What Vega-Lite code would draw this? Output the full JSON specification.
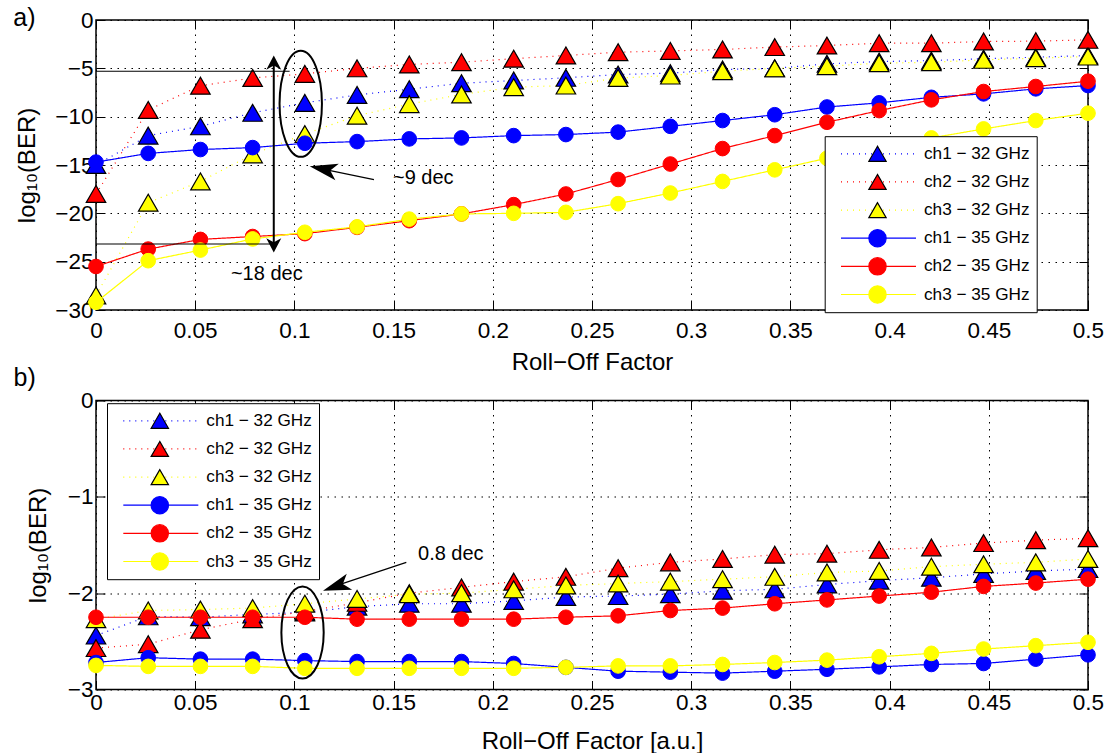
{
  "$schema": "https://vega.github.io/schema/vega-lite/v6.json",
  "background": "white",
  "padding": {"left": 12, "top": 5, "right": 5, "bottom": 0},
  "config": {
    "font": "Liberation Sans",
    "view": {"stroke": "black", "strokeWidth": 1.5},
    "axis": {
      "labelColor": "black",
      "titleColor": "black",
      "labelFontSize": 22.5,
      "titleFontSize": 24,
      "titleFontWeight": "normal",
      "tickColor": "black",
      "tickWidth": 1,
      "labelOverlap": false,
      "labelFlush": false,
      "domain": false
    },
    "legend": {"labelColor": "black"}
  },
  "datasets": {
    "rollA": [
      {"rolloff": 0, "ch1 − 32 GHz": -15.0, "ch2 − 32 GHz": -18.0, "ch3 − 32 GHz": -28.5, "ch1 − 35 GHz": -14.7, "ch2 − 35 GHz": -25.5, "ch3 − 35 GHz": -29.2},
      {"rolloff": 0.026316, "ch1 − 32 GHz": -11.96, "ch2 − 32 GHz": -9.3, "ch3 − 32 GHz": -18.9, "ch1 − 35 GHz": -13.8, "ch2 − 35 GHz": -23.7, "ch3 − 35 GHz": -24.9},
      {"rolloff": 0.052632, "ch1 − 32 GHz": -11.0, "ch2 − 32 GHz": -6.8, "ch3 − 32 GHz": -16.7, "ch1 − 35 GHz": -13.4, "ch2 − 35 GHz": -22.7, "ch3 − 35 GHz": -23.8},
      {"rolloff": 0.078947, "ch1 − 32 GHz": -9.6, "ch2 − 32 GHz": -6.0, "ch3 − 32 GHz": -13.9, "ch1 − 35 GHz": -13.2, "ch2 − 35 GHz": -22.4, "ch3 − 35 GHz": -22.65},
      {"rolloff": 0.105263, "ch1 − 32 GHz": -8.57, "ch2 − 32 GHz": -5.57, "ch3 − 32 GHz": -11.8, "ch1 − 35 GHz": -12.75, "ch2 − 35 GHz": -22.1, "ch3 − 35 GHz": -21.96},
      {"rolloff": 0.131579, "ch1 − 32 GHz": -7.75, "ch2 − 32 GHz": -5.0, "ch3 − 32 GHz": -9.9, "ch1 − 35 GHz": -12.58, "ch2 − 35 GHz": -21.45, "ch3 − 35 GHz": -21.4},
      {"rolloff": 0.157895, "ch1 − 32 GHz": -7.16, "ch2 − 32 GHz": -4.6, "ch3 − 32 GHz": -8.7, "ch1 − 35 GHz": -12.3, "ch2 − 35 GHz": -20.76, "ch3 − 35 GHz": -20.6},
      {"rolloff": 0.184211, "ch1 − 32 GHz": -6.54, "ch2 − 32 GHz": -4.37, "ch3 − 32 GHz": -7.7, "ch1 − 35 GHz": -12.2, "ch2 − 35 GHz": -20.06, "ch3 − 35 GHz": -20.06},
      {"rolloff": 0.210526, "ch1 − 32 GHz": -6.26, "ch2 − 32 GHz": -4.0, "ch3 − 32 GHz": -6.95, "ch1 − 35 GHz": -11.96, "ch2 − 35 GHz": -19.1, "ch3 − 35 GHz": -20.0},
      {"rolloff": 0.236842, "ch1 − 32 GHz": -5.98, "ch2 − 32 GHz": -3.67, "ch3 − 32 GHz": -6.78, "ch1 − 35 GHz": -11.85, "ch2 − 35 GHz": -18.0, "ch3 − 35 GHz": -19.9},
      {"rolloff": 0.263158, "ch1 − 32 GHz": -5.64, "ch2 − 32 GHz": -3.33, "ch3 − 32 GHz": -6.0, "ch1 − 35 GHz": -11.6, "ch2 − 35 GHz": -16.5, "ch3 − 35 GHz": -19.0},
      {"rolloff": 0.289474, "ch1 − 32 GHz": -5.5, "ch2 − 32 GHz": -3.2, "ch3 − 32 GHz": -5.75, "ch1 − 35 GHz": -11.0, "ch2 − 35 GHz": -14.9, "ch3 − 35 GHz": -17.9},
      {"rolloff": 0.315789, "ch1 − 32 GHz": -5.12, "ch2 − 32 GHz": -3.05, "ch3 − 32 GHz": -5.3, "ch1 − 35 GHz": -10.4, "ch2 − 35 GHz": -13.3, "ch3 − 35 GHz": -16.7},
      {"rolloff": 0.342105, "ch1 − 32 GHz": -5.0, "ch2 − 32 GHz": -2.8, "ch3 − 32 GHz": -5.0, "ch1 − 35 GHz": -9.8, "ch2 − 35 GHz": -11.96, "ch3 − 35 GHz": -15.5},
      {"rolloff": 0.368421, "ch1 − 32 GHz": -4.53, "ch2 − 32 GHz": -2.64, "ch3 − 32 GHz": -4.78, "ch1 − 35 GHz": -9.0, "ch2 − 35 GHz": -10.58, "ch3 − 35 GHz": -14.3},
      {"rolloff": 0.394737, "ch1 − 32 GHz": -4.3, "ch2 − 32 GHz": -2.4, "ch3 − 32 GHz": -4.47, "ch1 − 35 GHz": -8.57, "ch2 − 35 GHz": -9.37, "ch3 − 35 GHz": -13.3},
      {"rolloff": 0.421053, "ch1 − 32 GHz": -4.2, "ch2 − 32 GHz": -2.4, "ch3 − 32 GHz": -4.37, "ch1 − 35 GHz": -8.0, "ch2 − 35 GHz": -8.26, "ch3 − 35 GHz": -12.2},
      {"rolloff": 0.447368, "ch1 − 32 GHz": -4.0, "ch2 − 32 GHz": -2.22, "ch3 − 32 GHz": -4.12, "ch1 − 35 GHz": -7.64, "ch2 − 35 GHz": -7.4, "ch3 − 35 GHz": -11.27},
      {"rolloff": 0.473684, "ch1 − 32 GHz": -3.85, "ch2 − 32 GHz": -2.19, "ch3 − 32 GHz": -3.95, "ch1 − 35 GHz": -7.12, "ch2 − 35 GHz": -6.88, "ch3 − 35 GHz": -10.4},
      {"rolloff": 0.5, "ch1 − 32 GHz": -3.67, "ch2 − 32 GHz": -2.05, "ch3 − 32 GHz": -3.78, "ch1 − 35 GHz": -6.78, "ch2 − 35 GHz": -6.33, "ch3 − 35 GHz": -9.64}
    ],
    "rollB": [
      {"rolloff": 0, "ch1 − 32 GHz": -2.44, "ch2 − 32 GHz": -2.57, "ch3 − 32 GHz": -2.27, "ch1 − 35 GHz": -2.72, "ch2 − 35 GHz": -2.25, "ch3 − 35 GHz": -2.75},
      {"rolloff": 0.026316, "ch1 − 32 GHz": -2.24, "ch2 − 32 GHz": -2.53, "ch3 − 32 GHz": -2.18, "ch1 − 35 GHz": -2.67, "ch2 − 35 GHz": -2.25, "ch3 − 35 GHz": -2.76},
      {"rolloff": 0.052632, "ch1 − 32 GHz": -2.25, "ch2 − 32 GHz": -2.38, "ch3 − 32 GHz": -2.17, "ch1 − 35 GHz": -2.685, "ch2 − 35 GHz": -2.25, "ch3 − 35 GHz": -2.76},
      {"rolloff": 0.078947, "ch1 − 32 GHz": -2.22, "ch2 − 32 GHz": -2.27, "ch3 − 32 GHz": -2.155, "ch1 − 35 GHz": -2.685, "ch2 − 35 GHz": -2.25, "ch3 − 35 GHz": -2.76},
      {"rolloff": 0.105263, "ch1 − 32 GHz": -2.2, "ch2 − 32 GHz": -2.19, "ch3 − 32 GHz": -2.11, "ch1 − 35 GHz": -2.7, "ch2 − 35 GHz": -2.25, "ch3 − 35 GHz": -2.78},
      {"rolloff": 0.131579, "ch1 − 32 GHz": -2.14, "ch2 − 32 GHz": -2.1, "ch3 − 32 GHz": -2.06, "ch1 − 35 GHz": -2.71, "ch2 − 35 GHz": -2.27, "ch3 − 35 GHz": -2.78},
      {"rolloff": 0.157895, "ch1 − 32 GHz": -2.11, "ch2 − 32 GHz": -2.0, "ch3 − 32 GHz": -2.01, "ch1 − 35 GHz": -2.71, "ch2 − 35 GHz": -2.27, "ch3 − 35 GHz": -2.78},
      {"rolloff": 0.184211, "ch1 − 32 GHz": -2.11, "ch2 − 32 GHz": -1.94, "ch3 − 32 GHz": -2.0, "ch1 − 35 GHz": -2.71, "ch2 − 35 GHz": -2.27, "ch3 − 35 GHz": -2.78},
      {"rolloff": 0.210526, "ch1 − 32 GHz": -2.08, "ch2 − 32 GHz": -1.88, "ch3 − 32 GHz": -1.96, "ch1 − 35 GHz": -2.73, "ch2 − 35 GHz": -2.27, "ch3 − 35 GHz": -2.78},
      {"rolloff": 0.236842, "ch1 − 32 GHz": -2.04, "ch2 − 32 GHz": -1.83, "ch3 − 32 GHz": -1.92, "ch1 − 35 GHz": -2.77, "ch2 − 35 GHz": -2.25, "ch3 − 35 GHz": -2.77},
      {"rolloff": 0.263158, "ch1 − 32 GHz": -2.03, "ch2 − 32 GHz": -1.74, "ch3 − 32 GHz": -1.9, "ch1 − 35 GHz": -2.81, "ch2 − 35 GHz": -2.235, "ch3 − 35 GHz": -2.755},
      {"rolloff": 0.289474, "ch1 − 32 GHz": -2.01, "ch2 − 32 GHz": -1.68, "ch3 − 32 GHz": -1.88, "ch1 − 35 GHz": -2.82, "ch2 − 35 GHz": -2.18, "ch3 − 35 GHz": -2.755},
      {"rolloff": 0.315789, "ch1 − 32 GHz": -1.975, "ch2 − 32 GHz": -1.645, "ch3 − 32 GHz": -1.855, "ch1 − 35 GHz": -2.83, "ch2 − 35 GHz": -2.155, "ch3 − 35 GHz": -2.74},
      {"rolloff": 0.342105, "ch1 − 32 GHz": -1.96, "ch2 − 32 GHz": -1.6, "ch3 − 32 GHz": -1.83, "ch1 − 35 GHz": -2.81, "ch2 − 35 GHz": -2.11, "ch3 − 35 GHz": -2.72},
      {"rolloff": 0.368421, "ch1 − 32 GHz": -1.91, "ch2 − 32 GHz": -1.59, "ch3 − 32 GHz": -1.785, "ch1 − 35 GHz": -2.79, "ch2 − 35 GHz": -2.07, "ch3 − 35 GHz": -2.695},
      {"rolloff": 0.394737, "ch1 − 32 GHz": -1.87, "ch2 − 32 GHz": -1.55, "ch3 − 32 GHz": -1.77, "ch1 − 35 GHz": -2.765, "ch2 − 35 GHz": -2.03, "ch3 − 35 GHz": -2.66},
      {"rolloff": 0.421053, "ch1 − 32 GHz": -1.84, "ch2 − 32 GHz": -1.525, "ch3 − 32 GHz": -1.725, "ch1 − 35 GHz": -2.74, "ch2 − 35 GHz": -1.99, "ch3 − 35 GHz": -2.625},
      {"rolloff": 0.447368, "ch1 − 32 GHz": -1.8, "ch2 − 32 GHz": -1.48, "ch3 − 32 GHz": -1.7, "ch1 − 35 GHz": -2.73, "ch2 − 35 GHz": -1.93, "ch3 − 35 GHz": -2.58},
      {"rolloff": 0.473684, "ch1 − 32 GHz": -1.77, "ch2 − 32 GHz": -1.45, "ch3 − 32 GHz": -1.68, "ch1 − 35 GHz": -2.685, "ch2 − 35 GHz": -1.895, "ch3 − 35 GHz": -2.545},
      {"rolloff": 0.5, "ch1 − 32 GHz": -1.75, "ch2 − 32 GHz": -1.43, "ch3 − 32 GHz": -1.645, "ch1 − 35 GHz": -2.64, "ch2 − 35 GHz": -1.855, "ch3 − 35 GHz": -2.51}
    ]
  },
  "bounds": "flush",
  "spacing": 90.5,
  "resolve": {
    "scale": {"color": "independent", "fill": "independent", "shape": "independent", "stroke": "independent", "strokeDash": "independent"},
    "legend": {"color": "independent", "fill": "independent", "shape": "independent", "stroke": "independent", "strokeDash": "independent"}
  },
  "vconcat": [
    {
      "title": {"text": "a)", "anchor": "start", "frame": "bounds", "fontSize": 25, "fontWeight": "normal", "offset": -22, "dx": -2, "color": "black"},
      "width": 992,
      "height": 290,
      "data": {"name": "rollA"},
      "transform": [
        {"fold": ["ch1 − 32 GHz", "ch2 − 32 GHz", "ch3 − 32 GHz", "ch1 − 35 GHz", "ch2 − 35 GHz", "ch3 − 35 GHz"], "as": ["series", "ber"]}
      ],
      "resolve": {"axis": {"x": "independent", "y": "independent"}},
      "layer": [
        {
          "transform": [{"filter": {"field": "series", "oneOf": ["ch1 − 32 GHz", "ch2 − 32 GHz", "ch3 − 32 GHz"]}}],
          "mark": {"type": "line", "strokeWidth": 1.2},
          "encoding": {
            "x": {"field": "rolloff", "type": "quantitative", "scale": {"domain": [0, 0.5], "nice": false, "zero": false},
              "axis": {"orient": "bottom", "values": [0, 0.05, 0.1, 0.15, 0.2, 0.25, 0.3, 0.35, 0.4, 0.45, 0.5], "format": "~g", "title": "Roll−Off Factor", "grid": true, "gridColor": "black", "gridDash": [1.5, 5.5], "gridWidth": 1, "tickSize": -9, "labelPadding": 18, "titlePadding": 9}},
            "y": {"field": "ber", "type": "quantitative", "scale": {"domain": [-30, 0], "nice": false, "zero": false},
              "axis": {"orient": "left", "values": [0, -5, -10, -15, -20, -25, -30], "format": "~g", "title": "log₁₀(BER)", "grid": true, "gridColor": "black", "gridDash": [1.5, 5.5], "gridWidth": 1, "tickSize": -9, "labelPadding": 12, "titlePadding": 15.5}},
            "color": {"field": "series", "type": "nominal",
              "scale": {"domain": ["ch1 − 32 GHz", "ch2 − 32 GHz", "ch3 − 32 GHz", "ch1 − 35 GHz", "ch2 − 35 GHz", "ch3 − 35 GHz"], "range": ["#0000ff", "#ff0000", "#ffff00", "#0000ff", "#ff0000", "#ffff00"]},
              "legend": {"orient": "none", "legendX": 728.7, "legendY": 116.2, "title": null, "symbolType": "stroke", "symbolSize": 5625, "symbolStrokeWidth": 1.2, "labelFontSize": 17.2, "labelLimit": 300, "padding": 6.6, "rowPadding": 6.14, "clipHeight": 22, "symbolOffset": 8.7, "labelOffset": 7, "strokeColor": "black", "fillColor": "white", "cornerRadius": 0}},
            "strokeDash": {"field": "series", "type": "nominal",
              "scale": {"domain": ["ch1 − 32 GHz", "ch2 − 32 GHz", "ch3 − 32 GHz", "ch1 − 35 GHz", "ch2 − 35 GHz", "ch3 − 35 GHz"], "range": [[1, 5], [1, 5], [1, 5], [1, 0], [1, 0], [1, 0]]}}
          }
        },
        {
          "transform": [{"filter": {"field": "series", "oneOf": ["ch1 − 32 GHz", "ch2 − 32 GHz", "ch3 − 32 GHz"]}}],
          "mark": {"type": "point", "filled": true, "opacity": 1, "size": 380, "strokeWidth": 1.2},
          "encoding": {
            "x": {"field": "rolloff", "type": "quantitative",
              "axis": {"orient": "top", "values": [0, 0.05, 0.1, 0.15, 0.2, 0.25, 0.3, 0.35, 0.4, 0.45, 0.5], "labels": false, "title": null, "grid": false, "tickSize": -9}},
            "y": {"field": "ber", "type": "quantitative",
              "axis": {"orient": "right", "values": [0, -5, -10, -15, -20, -25, -30], "labels": false, "title": null, "grid": false, "tickSize": -9}},
            "fill": {"field": "series", "type": "nominal",
              "scale": {"range": ["#0000ff", "#0000ff", "#ff0000", "#ff0000", "#ffff00", "#ffff00"]},
              "legend": {"orient": "none", "legendX": 728.7, "legendY": 116.2, "title": null, "values": ["ch1 − 32 GHz", "ch2 − 32 GHz", "ch3 − 32 GHz", "ch1 − 35 GHz", "ch2 − 35 GHz", "ch3 − 35 GHz"], "symbolSize": 300, "symbolStrokeWidth": 1.2, "labelFontSize": 17.2, "labelExpr": "''", "padding": 6.6, "rowPadding": 6.14, "clipHeight": 22, "symbolOffset": 36.7, "labelOffset": 7,
                "encode": {"symbols": {"size": {"value": {"expr": "indexof(datum.value, '32 GHz') >= 0 ? 380 : 215"}}}}}},
            "shape": {"field": "series", "type": "nominal",
              "scale": {"range": ["triangle-up", "circle", "triangle-up", "circle", "triangle-up", "circle"]}},
            "stroke": {"field": "series", "type": "nominal",
              "scale": {"range": ["black", "#0000ff", "black", "#ff0000", "black", "#ffff00"]}},
            "order": {"field": "series"}
          }
        },
        {
          "transform": [{"filter": {"field": "series", "oneOf": ["ch1 − 35 GHz", "ch2 − 35 GHz", "ch3 − 35 GHz"]}}],
          "mark": {"type": "line", "strokeWidth": 1.2},
          "encoding": {
            "x": {"field": "rolloff", "type": "quantitative", "axis": null},
            "y": {"field": "ber", "type": "quantitative", "axis": null},
            "color": {"field": "series", "type": "nominal"},
            "strokeDash": {"field": "series", "type": "nominal"}
          }
        },
        {
          "transform": [{"filter": {"field": "series", "oneOf": ["ch1 − 35 GHz", "ch2 − 35 GHz", "ch3 − 35 GHz"]}}],
          "mark": {"type": "point", "filled": true, "opacity": 1, "size": 215, "strokeWidth": 1},
          "encoding": {
            "x": {"field": "rolloff", "type": "quantitative", "axis": null},
            "y": {"field": "ber", "type": "quantitative", "axis": null},
            "fill": {"field": "series", "type": "nominal"},
            "shape": {"field": "series", "type": "nominal"},
            "stroke": {"field": "series", "type": "nominal"},
            "order": {"field": "series"}
          }
        },
        {
          "data": {"values": [{}]},
          "mark": {"type": "rule", "color": "black", "strokeWidth": 1.2},
          "encoding": {"x": {"datum": 0, "axis": null}, "x2": {"datum": 0.0976}, "y": {"datum": -5.3, "axis": null}}
        },
        {
          "data": {"values": [{}]},
          "mark": {"type": "rule", "color": "black", "strokeWidth": 1.2},
          "encoding": {"x": {"datum": 0, "axis": null}, "x2": {"datum": 0.0884}, "y": {"datum": -23.17, "axis": null}}
        },
        {
          "data": {"values": [{}]},
          "mark": {"type": "rule", "color": "black", "strokeWidth": 2},
          "encoding": {"x": {"datum": 0.0896, "axis": null}, "y": {"datum": -4.5, "axis": null}, "y2": {"datum": -23.2}}
        },
        {
          "data": {"values": [{}]},
          "mark": {"type": "point", "shape": "M0,0L1,1.9L0,1.35L-1,1.9Z", "size": 225, "filled": true, "color": "black", "opacity": 1, "angle": 0},
          "encoding": {"x": {"datum": 0.0896, "axis": null}, "y": {"datum": -3.67, "axis": null}}
        },
        {
          "data": {"values": [{}]},
          "mark": {"type": "point", "shape": "M0,0L1,1.9L0,1.35L-1,1.9Z", "size": 225, "filled": true, "color": "black", "opacity": 1, "angle": 180},
          "encoding": {"x": {"datum": 0.0896, "axis": null}, "y": {"datum": -24.04, "axis": null}}
        },
        {
          "data": {"values": [{}]},
          "mark": {"type": "point", "shape": "M-0.4,0A0.4,1 0 1,1 0.4,0A0.4,1 0 1,1 -0.4,0Z", "size": 11236, "filled": false, "stroke": "black", "strokeWidth": 2, "opacity": 1},
          "encoding": {"x": {"datum": 0.1032, "axis": null}, "y": {"datum": -8.67, "axis": null}}
        },
        {
          "data": {"values": [{}]},
          "mark": {"type": "rule", "color": "black", "strokeWidth": 1.2},
          "encoding": {"x": {"datum": 0.1401, "axis": null}, "x2": {"datum": 0.112}, "y": {"datum": -16.51, "axis": null}, "y2": {"datum": -15.32}}
        },
        {
          "data": {"values": [{}]},
          "mark": {"type": "point", "shape": "M0,0L0.6,2L0,1.5L-0.6,2Z", "size": 784, "filled": true, "color": "black", "opacity": 1, "angle": 281.7},
          "encoding": {"x": {"datum": 0.1077, "axis": null}, "y": {"datum": -15.13, "axis": null}}
        },
        {
          "data": {"values": [{}]},
          "mark": {"type": "text", "text": "~9 dec", "fontSize": 20, "align": "left", "baseline": "middle", "color": "black"},
          "encoding": {"x": {"datum": 0.1497, "axis": null}, "y": {"datum": -16.3, "axis": null}}
        },
        {
          "data": {"values": [{}]},
          "mark": {"type": "text", "text": "~18 dec", "fontSize": 20, "align": "left", "baseline": "middle", "color": "black"},
          "encoding": {"x": {"datum": 0.068, "axis": null}, "y": {"datum": -26.24, "axis": null}}
        }
      ]
    },
    {
      "title": {"text": "b)", "anchor": "start", "frame": "bounds", "fontSize": 25, "fontWeight": "normal", "offset": -1, "dx": -13, "color": "black"},
      "width": 992,
      "height": 289,
      "data": {"name": "rollB"},
      "transform": [
        {"fold": ["ch1 − 32 GHz", "ch2 − 32 GHz", "ch3 − 32 GHz", "ch1 − 35 GHz", "ch2 − 35 GHz", "ch3 − 35 GHz"], "as": ["series", "ber"]}
      ],
      "resolve": {"axis": {"x": "independent", "y": "independent"}},
      "layer": [
        {
          "transform": [{"filter": {"field": "series", "oneOf": ["ch1 − 32 GHz", "ch2 − 32 GHz", "ch3 − 32 GHz"]}}],
          "mark": {"type": "line", "strokeWidth": 1.2},
          "encoding": {
            "x": {"field": "rolloff", "type": "quantitative", "scale": {"domain": [0, 0.5], "nice": false, "zero": false},
              "axis": {"orient": "bottom", "values": [0, 0.05, 0.1, 0.15, 0.2, 0.25, 0.3, 0.35, 0.4, 0.45, 0.5], "format": "~g", "title": "Roll−Off Factor [a.u.]", "grid": true, "gridColor": "black", "gridDash": [1.5, 5.5], "gridWidth": 1, "tickSize": -9, "labelPadding": 11, "titlePadding": 15}},
            "y": {"field": "ber", "type": "quantitative", "scale": {"domain": [-3, 0], "nice": false, "zero": false},
              "axis": {"orient": "left", "values": [0, -1, -2, -3], "format": "~g", "title": "log₁₀(BER)", "grid": true, "gridColor": "black", "gridDash": [1.5, 5.5], "gridWidth": 1, "tickSize": -9, "labelPadding": 12, "titlePadding": 16.8}},
            "color": {"field": "series", "type": "nominal",
              "scale": {"domain": ["ch1 − 32 GHz", "ch2 − 32 GHz", "ch3 − 32 GHz", "ch1 − 35 GHz", "ch2 − 35 GHz", "ch3 − 35 GHz"], "range": ["#0000ff", "#ff0000", "#ffff00", "#0000ff", "#ff0000", "#ffff00"]},
              "legend": {"orient": "none", "legendX": 11, "legendY": 2.7, "title": null, "symbolType": "stroke", "symbolSize": 5625, "symbolStrokeWidth": 1.2, "labelFontSize": 17.2, "labelLimit": 300, "padding": 6.6, "rowPadding": 6.14, "clipHeight": 22, "symbolOffset": 8.7, "labelOffset": 7, "strokeColor": "black", "fillColor": "white", "cornerRadius": 0}},
            "strokeDash": {"field": "series", "type": "nominal",
              "scale": {"domain": ["ch1 − 32 GHz", "ch2 − 32 GHz", "ch3 − 32 GHz", "ch1 − 35 GHz", "ch2 − 35 GHz", "ch3 − 35 GHz"], "range": [[1, 5], [1, 5], [1, 5], [1, 0], [1, 0], [1, 0]]}}
          }
        },
        {
          "transform": [{"filter": {"field": "series", "oneOf": ["ch1 − 32 GHz", "ch2 − 32 GHz", "ch3 − 32 GHz"]}}],
          "mark": {"type": "point", "filled": true, "opacity": 1, "size": 380, "strokeWidth": 1.2},
          "encoding": {
            "x": {"field": "rolloff", "type": "quantitative",
              "axis": {"orient": "top", "values": [0, 0.05, 0.1, 0.15, 0.2, 0.25, 0.3, 0.35, 0.4, 0.45, 0.5], "labels": false, "title": null, "grid": false, "tickSize": -9}},
            "y": {"field": "ber", "type": "quantitative",
              "axis": {"orient": "right", "values": [0, -1, -2, -3], "labels": false, "title": null, "grid": false, "tickSize": -9}},
            "fill": {"field": "series", "type": "nominal",
              "scale": {"range": ["#0000ff", "#0000ff", "#ff0000", "#ff0000", "#ffff00", "#ffff00"]},
              "legend": {"orient": "none", "legendX": 11, "legendY": 2.7, "title": null, "values": ["ch1 − 32 GHz", "ch2 − 32 GHz", "ch3 − 32 GHz", "ch1 − 35 GHz", "ch2 − 35 GHz", "ch3 − 35 GHz"], "symbolSize": 300, "symbolStrokeWidth": 1.2, "labelFontSize": 17.2, "labelExpr": "''", "padding": 6.6, "rowPadding": 6.14, "clipHeight": 22, "symbolOffset": 36.7, "labelOffset": 7,
                "encode": {"symbols": {"size": {"value": {"expr": "indexof(datum.value, '32 GHz') >= 0 ? 380 : 215"}}}}}},
            "shape": {"field": "series", "type": "nominal",
              "scale": {"range": ["triangle-up", "circle", "triangle-up", "circle", "triangle-up", "circle"]}},
            "stroke": {"field": "series", "type": "nominal",
              "scale": {"range": ["black", "#0000ff", "black", "#ff0000", "black", "#ffff00"]}},
            "order": {"field": "series"}
          }
        },
        {
          "transform": [{"filter": {"field": "series", "oneOf": ["ch1 − 35 GHz", "ch2 − 35 GHz", "ch3 − 35 GHz"]}}],
          "mark": {"type": "line", "strokeWidth": 1.2},
          "encoding": {
            "x": {"field": "rolloff", "type": "quantitative", "axis": null},
            "y": {"field": "ber", "type": "quantitative", "axis": null},
            "color": {"field": "series", "type": "nominal"},
            "strokeDash": {"field": "series", "type": "nominal"}
          }
        },
        {
          "transform": [{"filter": {"field": "series", "oneOf": ["ch1 − 35 GHz", "ch2 − 35 GHz", "ch3 − 35 GHz"]}}],
          "mark": {"type": "point", "filled": true, "opacity": 1, "size": 215, "strokeWidth": 1},
          "encoding": {
            "x": {"field": "rolloff", "type": "quantitative", "axis": null},
            "y": {"field": "ber", "type": "quantitative", "axis": null},
            "fill": {"field": "series", "type": "nominal"},
            "shape": {"field": "series", "type": "nominal"},
            "stroke": {"field": "series", "type": "nominal"},
            "order": {"field": "series"}
          }
        },
        {
          "data": {"values": [{}]},
          "mark": {"type": "point", "shape": "M-0.46,0A0.46,1 0 1,1 0.46,0A0.46,1 0 1,1 -0.46,0Z", "size": 8464, "filled": false, "stroke": "black", "strokeWidth": 2, "opacity": 1},
          "encoding": {"x": {"datum": 0.1041, "axis": null}, "y": {"datum": -2.408, "axis": null}}
        },
        {
          "data": {"values": [{}]},
          "mark": {"type": "rule", "color": "black", "strokeWidth": 1.2},
          "encoding": {"x": {"datum": 0.1564, "axis": null}, "x2": {"datum": 0.12}, "y": {"datum": -1.681, "axis": null}, "y2": {"datum": -1.93}}
        },
        {
          "data": {"values": [{}]},
          "mark": {"type": "point", "shape": "M0,0L0.6,2L0,1.5L-0.6,2Z", "size": 784, "filled": true, "color": "black", "opacity": 1, "angle": 251.2},
          "encoding": {"x": {"datum": 0.1144, "axis": null}, "y": {"datum": -1.975, "axis": null}}
        },
        {
          "data": {"values": [{}]},
          "mark": {"type": "text", "text": "0.8 dec", "fontSize": 20, "align": "left", "baseline": "middle", "color": "black"},
          "encoding": {"x": {"datum": 0.1623, "axis": null}, "y": {"datum": -1.59, "axis": null}}
        }
      ]
    }
  ]
}
